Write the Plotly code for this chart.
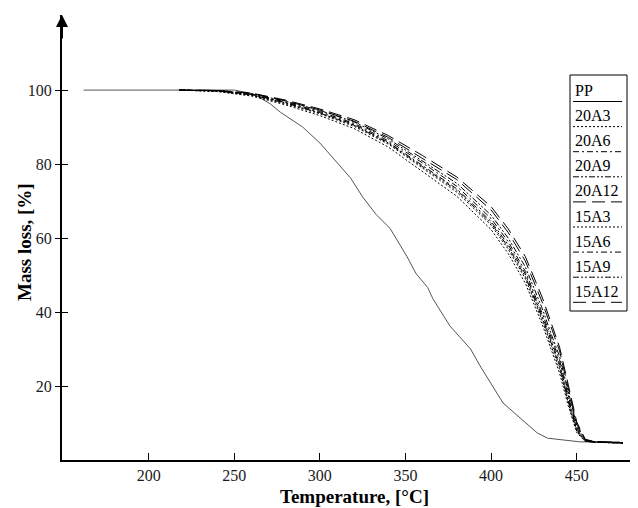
import plotly.graph_objects as go

# ---------------- data ----------------
temp_pp = [162, 250, 261, 271, 277, 290, 300, 312, 318, 325, 333, 341, 347, 351,
           356, 363, 366, 376, 388, 394, 407, 417, 427, 433, 452, 475]
mass_pp = [100, 100, 99.0, 96.3, 94.0, 90.0, 85.7, 79.2, 76.2, 71.1, 66.3, 62.6, 58.1, 54.9,
           50.5, 46.6, 43.6, 36.2, 30.0, 25.1, 15.4, 11.4, 7.3, 5.9, 4.9, 4.9]

temp_comp = [218, 240, 260, 280, 300, 320, 340, 360, 380, 400, 410, 420, 430, 435,
             440, 445, 450, 455, 460, 470, 477]
mass_20A3 = [100, 99.7, 98.6, 96.3, 93.6, 90.2, 85.4, 79.0, 72.4, 63.5, 57.0, 49.0, 37.5, 31.0,
             24.5, 15.5, 7.8, 5.1, 4.8, 4.7, 4.6]
mass_20A6 = [100, 99.8, 98.9, 96.8, 94.2, 91.0, 86.3, 80.3, 74.0, 65.3, 59.0, 51.0, 39.5, 33.0,
             27.0, 17.5, 8.8, 5.3, 4.9, 4.7, 4.6]
mass_20A9 = [100, 99.9, 99.0, 97.0, 94.5, 91.4, 86.8, 80.9, 74.8, 66.2, 60.0, 52.2, 40.8, 34.2,
             28.0, 18.6, 9.4, 5.4, 4.9, 4.7, 4.6]
mass_20A12 = [100, 99.9, 99.1, 97.1, 94.6, 91.6, 87.2, 81.6, 75.8, 67.6, 61.5, 53.8, 42.5, 36.0,
              29.5, 19.5, 9.8, 5.5, 5.0, 4.8, 4.7]
mass_15A3 = [100, 99.6, 98.4, 96.0, 93.1, 89.6, 84.6, 78.0, 71.3, 62.3, 55.8, 47.8, 36.5, 30.0,
             23.5, 14.8, 7.4, 5.0, 4.8, 4.6, 4.6]
mass_15A6 = [100, 99.8, 98.8, 96.6, 93.9, 90.7, 85.9, 79.7, 73.3, 64.5, 58.2, 50.3, 38.8, 32.4,
             26.0, 16.8, 8.4, 5.2, 4.9, 4.7, 4.6]
mass_15A9 = [100, 99.7, 98.7, 96.5, 93.8, 90.5, 85.7, 79.4, 72.9, 64.0, 57.6, 49.6, 38.2, 31.8,
             25.4, 16.2, 8.0, 5.1, 4.8, 4.7, 4.6]
mass_15A12 = [100, 99.9, 99.2, 97.3, 94.9, 92.0, 87.7, 82.3, 76.5, 68.5, 62.5, 55.0, 43.8, 37.0,
              30.5, 20.5, 10.3, 5.6, 5.0, 4.8, 4.7]

series_names = ["PP", "20A3", "20A6", "20A9", "20A12", "15A3", "15A6", "15A9", "15A12"]
x_ticks = [200, 250, 300, 350, 400, 450]
y_ticks = [20, 40, 60, 80, 100]

# ---------------- styles ----------------
OFF = 8  # page body margin
W, H = 638 - OFF, 508 - OFF
L, R, T, B = 62 - OFF, 0, 15 - OFF, 48
X_RANGE = [149.4, 485.8]
Y_RANGE = [0, 120.3]
SERIF = "Liberation Serif, Times New Roman, serif"

DOT = "2px,2px"
DASHDOT = "6px,3px,2px,3px"
DASHDOTDOT = "6px,2px,2px,2px,2px,2px"
LONGDASH = "13px,6px"
styles = {
    "PP": ("#555555", "solid"),
    "20A3": ("black", DOT),
    "20A6": ("black", DASHDOT),
    "20A9": ("black", DASHDOTDOT),
    "20A12": ("black", LONGDASH),
    "15A3": ("black", DOT),
    "15A6": ("black", DASHDOT),
    "15A9": ("black", DASHDOTDOT),
    "15A12": ("black", LONGDASH),
}
comp_data = {
    "20A3": mass_20A3, "20A6": mass_20A6, "20A9": mass_20A9, "20A12": mass_20A12,
    "15A3": mass_15A3, "15A6": mass_15A6, "15A9": mass_15A9, "15A12": mass_15A12,
}

fig = go.Figure()
fig.add_trace(go.Scatter(x=temp_pp, y=mass_pp, mode="lines", name="PP",
                         line=dict(color=styles["PP"][0], width=1, dash=styles["PP"][1]),
                         showlegend=False))
for name in series_names[1:]:
    c, d = styles[name]
    fig.add_trace(go.Scatter(x=temp_comp, y=comp_data[name], mode="lines", name=name,
                             line=dict(color=c, width=1, dash=d), showlegend=False))
# helper trace so the overlay axis (inside ticks) is drawn
fig.add_trace(go.Scatter(x=[300], y=[50], yaxis="y2", mode="markers",
                         marker=dict(opacity=0), hoverinfo="skip", showlegend=False))

pw, ph = W - L - R, H - T - B


def px2paper(px, py):
    # px, py are window pixel coordinates of the reference image
    px -= OFF
    py -= OFF
    return (px - L) / pw, (H - B - py) / ph


shapes = []
annotations = []

# legend box
x0, y0 = px2paper(570, 311)
x1, y1 = px2paper(627, 75)
shapes.append(dict(type="rect", xref="paper", yref="paper", x0=x0, y0=y0, x1=x1, y1=y1,
                   line=dict(color="black", width=1), fillcolor="white", layer="above"))
for i, name in enumerate(series_names):
    ty = 90.5 + 25.1 * i
    ly = 101.5 + 25.1 * i
    tx, typ = px2paper(573, ty)
    annotations.append(dict(text=name, xref="paper", yref="paper", x=tx, y=typ,
                            xanchor="left", yanchor="middle", showarrow=False,
                            font=dict(family=SERIF, size=16, color="black")))
    lx0, lyp = px2paper(573, ly)
    lx1, _ = px2paper(622, ly)
    shapes.append(dict(type="line", xref="paper", yref="paper", x0=lx0, x1=lx1, y0=lyp, y1=lyp,
                       line=dict(color="black", width=1, dash=styles[name][1]), layer="above"))

# axis titles
ax_, ay_ = px2paper(354, 496)
annotations.append(dict(text="<b>Temperature, [°C]</b>", xref="paper", yref="paper",
                        x=ax_, y=ay_, showarrow=False, xanchor="center", yanchor="middle",
                        font=dict(family=SERIF, size=19, color="black")))
bx_, by_ = px2paper(24, 242)
annotations.append(dict(text="<b>Mass loss, [%]</b>", xref="paper", yref="paper",
                        x=bx_, y=by_, showarrow=False, xanchor="center", yanchor="middle",
                        textangle=-90, font=dict(family=SERIF, size=19, color="black")))
# arrow at top of y axis
annotations.append(dict(text="", xref="paper", yref="paper", x=0, y=1, ax=0, ay=25,
                        showarrow=True, arrowhead=2, arrowsize=1.2, arrowwidth=2,
                        arrowcolor="black", standoff=0))

fig.update_layout(
    width=W, height=H,
    margin=dict(l=L, r=R, t=T, b=B),
    paper_bgcolor="white", plot_bgcolor="white",
    showlegend=False,
    xaxis=dict(range=X_RANGE, tickvals=x_ticks, ticks="inside", ticklen=7, tickwidth=1,
               tickcolor="black", showline=True, linecolor="black", linewidth=2,
               showgrid=False, zeroline=False,
               tickfont=dict(family=SERIF, size=16, color="#1a1a1a")),
    yaxis=dict(range=Y_RANGE, tickvals=y_ticks, ticks="outside", ticklen=5, tickwidth=1,
               tickcolor="black", showline=True, linecolor="black", linewidth=2,
               showgrid=False, zeroline=False,
               tickfont=dict(family=SERIF, size=16, color="#1a1a1a")),
    yaxis2=dict(range=Y_RANGE, tickvals=y_ticks, ticks="inside", ticklen=6, tickwidth=1,
                tickcolor="black", overlaying="y", side="left", anchor="x",
                showticklabels=False, showline=False, showgrid=False, zeroline=False),
    shapes=shapes,
    annotations=annotations,
)

fig.write_html("out.html")
